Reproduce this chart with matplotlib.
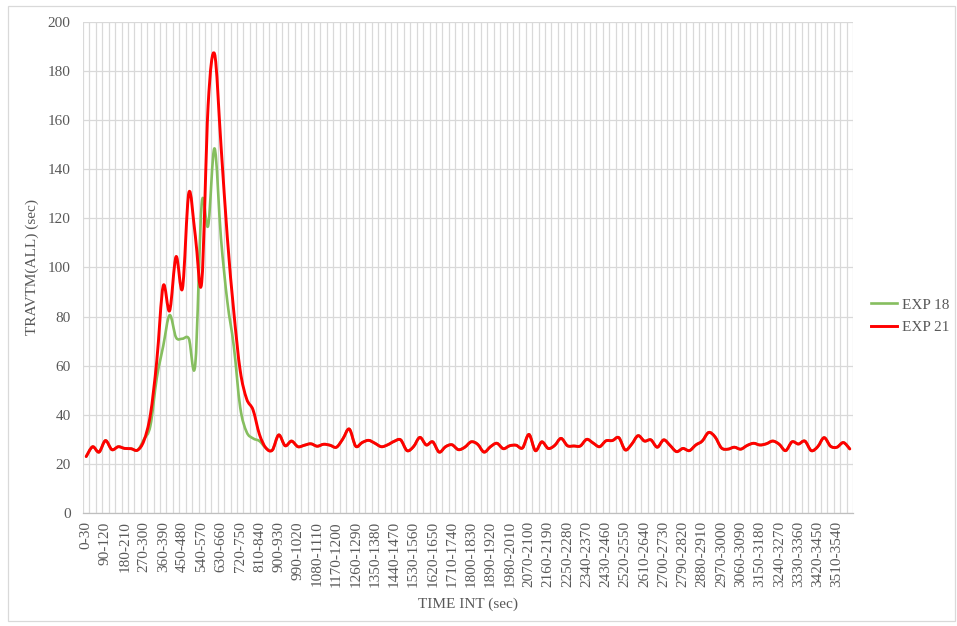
import matplotlib
matplotlib.use('Agg')
import matplotlib.pyplot as plt
import numpy as np
from matplotlib.path import Path
from matplotlib.patches import PathPatch, Rectangle
from matplotlib.lines import Line2D

# 30-second time intervals, 0-30 ... 3570-3600
interval_starts = list(range(0, 3600, 30))
categories = [f"{s}-{s + 30}" for s in interval_starts]

exp18 = [
    23.0, 27.0, 24.8, 29.5, 25.8, 27.0, 26.3, 26.2, 25.6, 30.0,
    35.5, 55.0, 68.0, 80.6, 71.5, 71.0, 71.0, 60.6, 126.0, 117.0,
    148.5, 112.0, 86.0, 68.0, 43.0, 33.0, 30.4, 29.3, 26.5, 25.6,
    31.8, 27.4, 29.3, 27.0, 27.6, 28.2, 27.2, 28.0, 27.6, 26.8,
    30.2, 34.2, 27.2, 28.7, 29.6, 28.4, 27.0, 27.8, 29.2, 29.8,
    25.4, 27.0, 30.8, 27.7, 29.0, 24.8, 27.0, 27.8, 25.8, 26.8,
    29.0, 28.0, 24.8, 27.0, 28.4, 26.2, 27.4, 27.6, 26.5, 32.0,
    25.4, 29.0, 26.3, 27.5, 30.4, 27.4, 27.3, 27.3, 30.0, 28.5,
    27.0, 29.4, 29.5, 30.7, 25.7, 28.0, 31.5, 29.3, 29.8, 26.8,
    29.8, 27.5, 25.0, 26.3, 25.4, 27.7, 29.3, 32.8, 31.0, 26.5,
    26.0, 26.8, 26.0, 27.5, 28.4, 27.7, 28.2, 29.3, 28.0, 25.4,
    29.0, 28.1, 29.3, 25.4, 27.0, 30.7, 27.2, 26.8, 28.7, 26.1,
]

exp21 = [
    23.0, 27.0, 24.8, 29.5, 25.8, 27.0, 26.3, 26.2, 25.6, 29.5,
    40.0, 62.0, 92.5, 82.4, 104.4, 91.5, 130.5, 113.0, 94.0, 166.0,
    187.0, 150.0, 112.0, 82.0, 58.0, 46.5, 42.0, 32.0, 26.5, 25.6,
    31.8, 27.4, 29.3, 27.0, 27.6, 28.2, 27.2, 28.0, 27.6, 26.8,
    30.2, 34.2, 27.2, 28.7, 29.6, 28.4, 27.0, 27.8, 29.2, 29.8,
    25.4, 27.0, 30.8, 27.7, 29.0, 24.8, 27.0, 27.8, 25.8, 26.8,
    29.0, 28.0, 24.8, 27.0, 28.4, 26.2, 27.4, 27.6, 26.5, 32.0,
    25.4, 29.0, 26.3, 27.5, 30.4, 27.4, 27.3, 27.3, 30.0, 28.5,
    27.0, 29.4, 29.5, 30.7, 25.7, 28.0, 31.5, 29.3, 29.8, 26.8,
    29.8, 27.5, 25.0, 26.3, 25.4, 27.7, 29.3, 32.8, 31.0, 26.5,
    26.0, 26.8, 26.0, 27.5, 28.4, 27.7, 28.2, 29.3, 28.0, 25.4,
    29.0, 28.1, 29.3, 25.4, 27.0, 30.7, 27.2, 26.8, 28.7, 26.1,
]

GREEN = '#86BE5F'
RED = '#FF0000'
TXT = '#595959'
GRID = '#D9D9D9'


def smooth_path(xs, ys):
    # cubic bezier through every point (catmull-rom style, like spreadsheet "smoothed line")
    pts = np.column_stack([xs, ys]).astype(float)
    n = len(pts)
    verts = [pts[0]]
    codes = [Path.MOVETO]
    for i in range(n - 1):
        p0 = pts[max(i - 1, 0)]
        p1 = pts[i]
        p2 = pts[i + 1]
        p3 = pts[min(i + 2, n - 1)]
        verts += [p1 + (p2 - p0) / 6.0, p2 - (p3 - p1) / 6.0, p2]
        codes += [Path.CURVE4] * 3
    return Path(verts, codes)


plt.rcParams['font.family'] = ['Liberation Serif', 'DejaVu Serif']

W, H = 957, 626
fig = plt.figure(figsize=(W / 100, H / 100), dpi=100)
ax = fig.add_axes([83 / W, (H - 513) / H, 770 / W, 491 / H])

x = np.arange(len(categories))
ax.add_patch(PathPatch(smooth_path(x, exp18), fill=False, edgecolor=GREEN,
                       lw=1.9, capstyle='round', joinstyle='round', zorder=3))
ax.add_patch(PathPatch(smooth_path(x, exp21), fill=False, edgecolor=RED,
                       lw=2.1, capstyle='round', joinstyle='round', zorder=4))

ax.set_xlim(-0.5, len(categories) - 0.5)
ax.set_ylim(0, 200)
ax.set_yticks(np.arange(0, 201, 20))
ax.set_xticks(x[::3])
ax.set_xticklabels(categories[::3], rotation=90)
ax.set_xticks(np.arange(-0.5, len(categories), 1.0), minor=True)

ax.grid(axis='y', which='major', color=GRID, lw=0.9)
ax.grid(axis='x', which='minor', color=GRID, lw=0.9)
ax.grid(axis='x', which='major', visible=False)
ax.set_axisbelow(True)

ax.tick_params(axis='both', which='both', length=0, colors=TXT, labelsize=11)
ax.tick_params(axis='x', pad=6)
ax.tick_params(axis='y', pad=9)
for side in ('top', 'right', 'left'):
    ax.spines[side].set_visible(False)
ax.spines['bottom'].set_color('#BFBFBF')
ax.spines['bottom'].set_linewidth(0.9)

ax.set_xlabel('TIME INT (sec)', color=TXT, fontsize=11, labelpad=7)
ax.set_ylabel('TRAVTM(ALL) (sec)', color=TXT, fontsize=11, labelpad=6)

handles = [Line2D([], [], color=GREEN, lw=1.9), Line2D([], [], color=RED, lw=2.1)]
fig.legend(handles, ['EXP 18', 'EXP 21'], loc='center left',
           bbox_to_anchor=(871 / W, 1 - 316 / H), frameon=False,
           borderpad=0, borderaxespad=0,
           fontsize=11, labelcolor=TXT, handlelength=1.7,
           handletextpad=0.3, labelspacing=0.55)

# light border round the chart area
fig.patches.append(Rectangle((8 / W, 5 / H), 947 / W, 615 / H,
                             transform=fig.transFigure, fill=False,
                             edgecolor=GRID, lw=0.9))

fig.savefig('out.png', dpi=100)
